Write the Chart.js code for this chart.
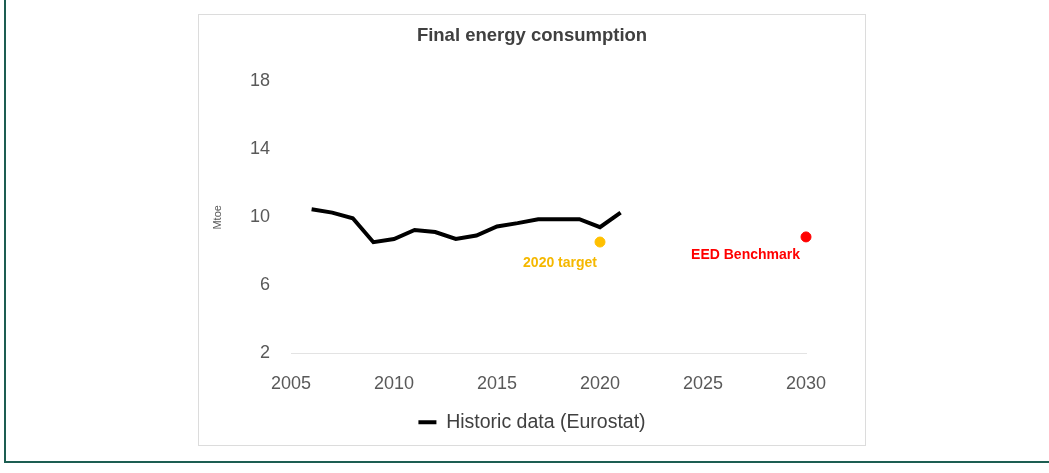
<!DOCTYPE html>
<html>
<head>
<meta charset="utf-8">
<script src="https://cdn.jsdelivr.net/npm/chart.js@4.4.0/dist/chart.umd.min.js"></script>
<style>
  html, body { margin: 0; padding: 0; background: #fff; overflow: hidden; }
  #frame {
    position: absolute; left: 4px; top: -10px; width: 1100px; height: 471px;
    border-left: 2px solid #1d5e52; border-bottom: 2px solid #1d5e52;
  }
  #box {
    position: absolute; left: 198px; top: 14px; width: 668px; height: 432px;
    box-sizing: border-box; border: 1px solid #dcdcdc;
  }
  #wrap { position: absolute; left: 198px; top: 14px; width: 668px; height: 432px; }
</style>
</head>
<body>
<div id="frame"></div>
<div id="box"></div>
<div id="wrap"><canvas id="Graph"></canvas></div>
<script>
// Historic final energy consumption (Mtoe)
const years = [2006, 2007, 2008, 2009, 2010, 2011, 2012, 2013, 2014, 2015, 2016, 2017, 2018, 2019, 2020, 2021];
const historic = [10.48, 10.28, 9.95, 8.54, 8.73, 9.26, 9.14, 8.73, 8.93, 9.46, 9.66, 9.89, 9.89, 9.89, 9.42, 10.28];

// single points
const targetYear = [2020];
const targetValue = [8.55];
const benchmarkYear = [2030];
const benchmarkValue = [8.85];

const yTicks = [2, 6, 10, 14, 18];
const xTicks = [2005, 2010, 2015, 2020, 2025, 2030];

const FONT = "'Liberation Sans', 'DejaVu Sans', sans-serif";

// little plugin to write the text next to the two single points
const pointLabels = {
    id: 'pointLabels',
    afterDatasetsDraw(chart) {
        const ctx = chart.ctx;
        const items = [
            { ds: 1, text: '2020 target', color: '#f5b800', dx: -3, dy: 21 },
            { ds: 2, text: 'EED Benchmark', color: '#ff0000', dx: -6, dy: 18 }
        ];
        ctx.save();
        ctx.font = 'bold 14px ' + FONT;
        ctx.textAlign = 'right';
        ctx.textBaseline = 'middle';
        items.forEach(it => {
            const pt = chart.getDatasetMeta(it.ds).data[0];
            ctx.fillStyle = it.color;
            ctx.fillText(it.text, pt.x + it.dx, pt.y + it.dy);
        });
        ctx.restore();
    }
};

const ctx = document.getElementById('Graph').getContext('2d');
new Chart(ctx, {
    type: 'scatter',
    data: {
        datasets: [
            {
                label: 'Historic data (Eurostat)',
                data: years.map((y, i) => ({ x: y, y: historic[i] })),
                showLine: true,
                borderColor: '#000',
                backgroundColor: '#000',
                borderWidth: 4,
                pointRadius: 0,
                tension: 0
            },
            {
                label: '2020 target',
                data: targetYear.map((y, i) => ({ x: y, y: targetValue[i] })),
                backgroundColor: '#ffc000',
                borderColor: '#ffc000',
                pointRadius: 5,
                clip: false
            },
            {
                label: 'EED Benchmark',
                data: benchmarkYear.map((y, i) => ({ x: y, y: benchmarkValue[i] })),
                backgroundColor: '#ff0000',
                borderColor: '#ff0000',
                pointRadius: 5,
                clip: false
            }
        ]
    },
    options: {
        responsive: true,
        maintainAspectRatio: false,
        animation: false,
        layout: { padding: { left: 0, right: 0, top: 0, bottom: 4 } },
        plugins: {
            title: {
                display: true,
                text: 'Final energy consumption',
                color: '#404040',
                font: { family: FONT, size: 18.5, weight: 'bold' },
                padding: { top: 11, bottom: 34 }
            },
            legend: {
                position: 'bottom',
                labels: {
                    filter: item => item.datasetIndex === 0,
                    usePointStyle: true,
                    pointStyle: 'line',
                    pointStyleWidth: 18,
                    boxWidth: 18,
                    color: '#404040',
                    font: { family: FONT, size: 19.5 },
                    padding: 9
                }
            },
            tooltip: { enabled: false }
        },
        scales: {
            x: {
                type: 'linear',
                min: 2005,
                max: 2030,
                afterBuildTicks: axis => { axis.ticks = xTicks.map(v => ({ value: v })); },
                afterFit: axis => { axis.height = 50; },
                ticks: {
                    color: '#595959',
                    font: { family: FONT, size: 18 },
                    padding: 20,
                    callback: v => String(v)
                },
                grid: { display: false, drawTicks: false },
                border: { display: true, color: '#e3e3e3', width: 1 }
            },
            y: {
                min: 2,
                max: 18,
                afterBuildTicks: axis => { axis.ticks = yTicks.map(v => ({ value: v })); },
                afterFit: axis => { axis.width = 93; },
                ticks: {
                    color: '#595959',
                    font: { family: FONT, size: 18 },
                    padding: 21
                },
                title: {
                    display: true,
                    text: 'Mtoe',
                    color: '#595959',
                    font: { family: FONT, size: 11 },
                    padding: { top: 13, bottom: 0 }
                },
                grid: { display: false, drawTicks: false },
                border: { display: false }
            },
            // empty right axis, only keeps the space on the right of the plot
            yRight: {
                position: 'right',
                min: 2,
                max: 18,
                afterFit: axis => { axis.width = 60; },
                ticks: { display: false },
                grid: { display: false, drawTicks: false },
                border: { display: false }
            }
        }
    },
    plugins: [pointLabels]
});
</script>
</body>
</html>
